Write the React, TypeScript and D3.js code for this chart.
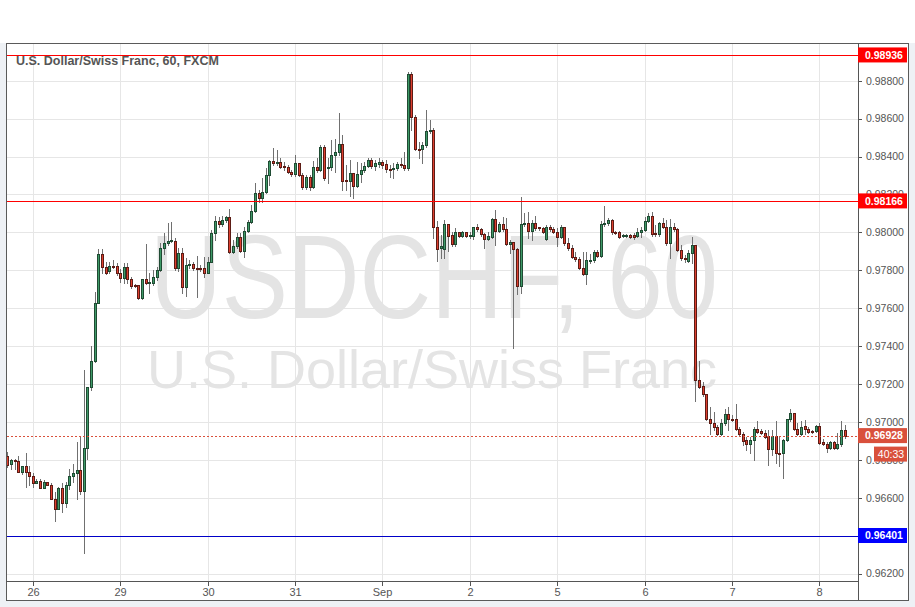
import React from "react";
import * as d3 from "d3";

// ── Data ──────────────────────────────────────────────────────────────────────

// hourly candles, [open, high, low, close], from Aug 25 17:00 to Sep 8 07:00
const OHLC: [number, number, number, number][] = [
  // Aug 25
  [0.96819, 0.96842, 0.96763, 0.96775], [0.96777, 0.96807, 0.96754, 0.96798],
  [0.96798, 0.96807, 0.9675, 0.96793], [0.96793, 0.96819, 0.96736, 0.96738],
  [0.96738, 0.9677, 0.96728, 0.96765], [0.96765, 0.96837, 0.96657, 0.96738],
  [0.96738, 0.9677, 0.96666, 0.96717],
  // Aug 26
  [0.96717, 0.96733, 0.96657, 0.96679], [0.96679, 0.96697, 0.96676, 0.96686],
  [0.96686, 0.96697, 0.96652, 0.96654], [0.96654, 0.96693, 0.96652, 0.96681],
  [0.96681, 0.96684, 0.96666, 0.9667], [0.9667, 0.96676, 0.96594, 0.96596],
  [0.96596, 0.96631, 0.96477, 0.96543], [0.96543, 0.96657, 0.96541, 0.96654],
  [0.96654, 0.96679, 0.96525, 0.96575], [0.96575, 0.96681, 0.96552, 0.96665],
  [0.96665, 0.96754, 0.96644, 0.96717], [0.96717, 0.96777, 0.96684, 0.96733],
  [0.96733, 0.96895, 0.96594, 0.96745], [0.96745, 0.96927, 0.96622, 0.96638],
  [0.96638, 0.97273, 0.96309, 0.9686], [0.9686, 0.97185, 0.96805, 0.97182],
  [0.97182, 0.974, 0.97171, 0.97319], [0.97319, 0.97683, 0.97315, 0.9763],
  [0.9763, 0.97912, 0.97628, 0.97884], [0.97884, 0.97912, 0.97784, 0.97818],
  [0.97818, 0.97845, 0.9778, 0.97784], [0.97797, 0.97845, 0.97784, 0.97822],
  [0.97822, 0.97854, 0.97811, 0.97818], [0.97822, 0.97839, 0.97775, 0.97784],
  // Aug 29
  [0.97784, 0.97805, 0.97739, 0.97757], [0.97757, 0.97836, 0.97732, 0.97815],
  [0.97815, 0.97836, 0.97734, 0.97752], [0.97752, 0.97762, 0.97704, 0.97716],
  [0.9772, 0.97727, 0.97711, 0.97716], [0.9772, 0.97722, 0.97646, 0.97652],
  [0.97652, 0.97753, 0.97648, 0.97752], [0.97752, 0.97938, 0.97727, 0.97731],
  [0.97731, 0.97784, 0.97678, 0.97738], [0.97734, 0.97801, 0.97722, 0.97762],
  [0.97762, 0.97818, 0.97748, 0.97801], [0.97801, 0.97945, 0.97796, 0.97915],
  [0.97915, 0.97995, 0.97885, 0.97945], [0.97945, 0.98047, 0.97933, 0.97956],
  [0.97956, 0.98054, 0.97949, 0.97959], [0.97956, 0.9797, 0.97801, 0.9781],
  [0.9781, 0.97915, 0.97796, 0.97889], [0.97889, 0.97915, 0.97681, 0.97713],
  [0.97713, 0.97863, 0.97664, 0.97827], [0.97826, 0.97854, 0.97811, 0.97833],
  [0.97833, 0.97845, 0.97801, 0.9781], [0.9781, 0.97875, 0.9766, 0.97805],
  [0.9781, 0.97827, 0.97796, 0.97805], [0.9781, 0.97871, 0.97762, 0.97787],
  // Aug 30
  [0.97787, 0.97871, 0.97786, 0.97845], [0.97845, 0.98012, 0.97843, 0.97995],
  [0.97995, 0.98086, 0.97962, 0.9806], [0.9806, 0.98079, 0.98028, 0.98044],
  [0.98044, 0.98086, 0.98033, 0.98065], [0.98065, 0.98086, 0.98054, 0.98079],
  [0.98079, 0.98121, 0.97891, 0.97898], [0.97898, 0.97959, 0.97891, 0.97928],
  [0.97928, 0.97998, 0.97917, 0.97974], [0.97974, 0.97995, 0.97896, 0.97903],
  [0.97903, 0.98029, 0.97871, 0.98007], [0.98007, 0.98065, 0.98002, 0.98053],
  [0.98053, 0.98144, 0.98049, 0.98114], [0.98114, 0.98259, 0.98107, 0.98206],
  [0.98206, 0.98223, 0.98161, 0.98179], [0.98179, 0.98285, 0.98161, 0.98214],
  [0.98214, 0.98338, 0.98207, 0.98302], [0.98302, 0.98382, 0.9825, 0.98378],
  [0.98378, 0.98443, 0.98355, 0.98364], [0.98364, 0.98434, 0.98355, 0.98373],
  [0.98373, 0.98391, 0.98339, 0.98346], [0.9835, 0.98373, 0.98329, 0.98343],
  [0.98343, 0.98355, 0.98313, 0.9832], [0.9832, 0.98329, 0.98297, 0.98306],
  // Aug 31
  [0.98306, 0.98408, 0.98297, 0.98364], [0.98364, 0.98367, 0.98297, 0.98302],
  [0.98302, 0.98311, 0.98229, 0.98237], [0.98237, 0.98302, 0.98229, 0.9829],
  [0.9829, 0.98302, 0.98223, 0.98241], [0.98241, 0.98378, 0.98234, 0.98343],
  [0.98343, 0.98391, 0.98318, 0.98331], [0.9833, 0.98461, 0.98323, 0.98449],
  [0.98449, 0.98461, 0.98276, 0.98285], [0.98338, 0.98394, 0.98259, 0.98343],
  [0.98343, 0.98487, 0.98329, 0.98408], [0.98408, 0.98492, 0.9832, 0.98422],
  [0.98422, 0.98628, 0.98408, 0.98466], [0.98466, 0.98513, 0.98223, 0.98272],
  [0.98276, 0.98355, 0.98223, 0.98272], [0.98272, 0.98382, 0.98193, 0.98311],
  [0.98311, 0.98313, 0.98179, 0.98246], [0.98246, 0.98373, 0.98239, 0.98306],
  [0.98306, 0.98364, 0.98267, 0.98329], [0.98329, 0.98373, 0.98318, 0.9835],
  [0.9835, 0.98391, 0.98345, 0.98382], [0.98382, 0.98391, 0.98339, 0.9835],
  [0.9835, 0.98382, 0.98329, 0.98364], [0.98362, 0.98391, 0.98345, 0.98369],
  // Sep 1
  [0.98369, 0.98382, 0.98339, 0.98355], [0.9836, 0.98382, 0.98318, 0.98332],
  [0.98332, 0.98355, 0.98293, 0.98329], [0.98332, 0.98364, 0.98288, 0.98338],
  [0.98338, 0.98373, 0.98329, 0.9836], [0.9836, 0.98391, 0.98345, 0.98355],
  [0.98355, 0.98422, 0.98329, 0.98338], [0.98338, 0.98848, 0.98329, 0.98834],
  [0.98834, 0.98848, 0.9854, 0.98607], [0.98607, 0.98619, 0.98434, 0.98438],
  [0.98438, 0.98475, 0.98391, 0.98436], [0.98438, 0.98475, 0.98364, 0.98461],
  [0.98461, 0.98645, 0.9845, 0.98535], [0.98535, 0.98593, 0.98524, 0.9854],
  [0.9854, 0.9855, 0.97968, 0.98029], [0.98029, 0.9806, 0.97849, 0.97912],
  [0.97915, 0.97986, 0.97866, 0.97928], [0.97912, 0.98065, 0.97863, 0.98042],
  [0.98042, 0.98042, 0.97901, 0.97982], [0.97986, 0.98003, 0.97928, 0.97937],
  [0.97937, 0.98024, 0.97928, 0.98], [0.98, 0.98003, 0.97975, 0.97982],
  [0.97982, 0.98007, 0.97975, 0.98], [0.98, 0.98003, 0.97975, 0.97982],
  // Sep 2
  [0.97982, 0.98003, 0.9797, 0.97986], [0.97982, 0.98029, 0.97965, 0.98028],
  [0.98028, 0.98042, 0.98007, 0.98016], [0.98017, 0.98024, 0.9798, 0.97989],
  [0.97989, 0.97995, 0.97915, 0.97963], [0.97963, 0.98003, 0.97959, 0.9798],
  [0.97977, 0.98077, 0.9797, 0.9807], [0.9807, 0.98118, 0.97933, 0.98008],
  [0.98008, 0.98056, 0.98002, 0.98042], [0.98042, 0.98082, 0.98007, 0.98016],
  [0.98016, 0.98074, 0.97933, 0.97937], [0.97937, 0.97959, 0.97889, 0.97947],
  [0.97947, 0.97949, 0.97388, 0.9791], [0.9791, 0.97915, 0.97673, 0.97716],
  [0.97716, 0.98188, 0.97678, 0.98042], [0.98042, 0.981, 0.98033, 0.98047],
  [0.98047, 0.98109, 0.97968, 0.98008], [0.98008, 0.98065, 0.97959, 0.98047],
  [0.98047, 0.98088, 0.98012, 0.98024], [0.98026, 0.98029, 0.98012, 0.98021],
  [0.98021, 0.98029, 0.97996, 0.98003], [0.97963, 0.98038, 0.97959, 0.98028],
  [0.98026, 0.98038, 0.98007, 0.98016], [0.98016, 0.98029, 0.97996, 0.98003],
  // Sep 5
  [0.98003, 0.98024, 0.97929, 0.97977], [0.97977, 0.98038, 0.9797, 0.98026],
  [0.98026, 0.98029, 0.97933, 0.97942], [0.97942, 0.97968, 0.97907, 0.97915],
  [0.97915, 0.97933, 0.97864, 0.97871], [0.97871, 0.97898, 0.97849, 0.97857],
  [0.97857, 0.97871, 0.97806, 0.9781], [0.9781, 0.97898, 0.97775, 0.97778],
  [0.97778, 0.97898, 0.97726, 0.97854], [0.97848, 0.97884, 0.97838, 0.97854],
  [0.97854, 0.97907, 0.97843, 0.97894], [0.97894, 0.97907, 0.9787, 0.97876],
  [0.97876, 0.9806, 0.9787, 0.98042], [0.98042, 0.98139, 0.98033, 0.98047],
  [0.98047, 0.98074, 0.98038, 0.98065], [0.98065, 0.9807, 0.97991, 0.98],
  [0.98003, 0.98007, 0.97991, 0.98], [0.98, 0.98007, 0.9797, 0.97977],
  [0.97979, 0.97989, 0.97975, 0.97986], [0.97979, 0.97989, 0.97975, 0.97986],
  [0.97986, 0.97989, 0.9797, 0.97975], [0.97986, 0.97995, 0.97965, 0.97974],
  [0.97982, 0.98021, 0.97975, 0.98], [0.98, 0.98029, 0.97977, 0.98012],
  // Sep 6
  [0.98012, 0.98082, 0.98007, 0.9806], [0.9806, 0.981, 0.98054, 0.98086],
  [0.98086, 0.98109, 0.9798, 0.97989], [0.97995, 0.98038, 0.9798, 0.97989],
  [0.97989, 0.98056, 0.9798, 0.98047], [0.98047, 0.98074, 0.98023, 0.98029],
  [0.98029, 0.98065, 0.97933, 0.97942], [0.97942, 0.9807, 0.97866, 0.98026],
  [0.98026, 0.98047, 0.98007, 0.98016], [0.98016, 0.98021, 0.97901, 0.97907],
  [0.97907, 0.97933, 0.97854, 0.97863], [0.97863, 0.9788, 0.97843, 0.97857],
  [0.9785, 0.97907, 0.97843, 0.97889], [0.97889, 0.97977, 0.97836, 0.97933],
  [0.97933, 0.97933, 0.97111, 0.9722], [0.9722, 0.97321, 0.97178, 0.97185],
  [0.97189, 0.97211, 0.97136, 0.97145], [0.97145, 0.9715, 0.97009, 0.97018],
  [0.97018, 0.97079, 0.96939, 0.96992], [0.96992, 0.97053, 0.96957, 0.96971],
  [0.96971, 0.96983, 0.9693, 0.96934], [0.96934, 0.97018, 0.9693, 0.96992],
  [0.96992, 0.97067, 0.96983, 0.97041], [0.97041, 0.97079, 0.96957, 0.97018],
  // Sep 7
  [0.97018, 0.97036, 0.97004, 0.97013], [0.97013, 0.97094, 0.96957, 0.96965],
  [0.96965, 0.96974, 0.9693, 0.96939], [0.96939, 0.96948, 0.96877, 0.969],
  [0.96904, 0.96921, 0.96851, 0.96886], [0.96886, 0.96921, 0.96837, 0.96904],
  [0.96904, 0.96974, 0.968, 0.96965], [0.96965, 0.97005, 0.96941, 0.96948],
  [0.96951, 0.96965, 0.96935, 0.96944], [0.96944, 0.9696, 0.96914, 0.96921],
  [0.96925, 0.96957, 0.96775, 0.96855], [0.96855, 0.96957, 0.96825, 0.96925],
  [0.96925, 0.97004, 0.96784, 0.96834], [0.96837, 0.96925, 0.96767, 0.96834],
  [0.96834, 0.96912, 0.96702, 0.96907], [0.96907, 0.97018, 0.96898, 0.97013],
  [0.97013, 0.97066, 0.97004, 0.97045], [0.97045, 0.97046, 0.96957, 0.96965],
  [0.96965, 0.96992, 0.9693, 0.96939], [0.96939, 0.97005, 0.9693, 0.96974],
  [0.96978, 0.97009, 0.96939, 0.96965], [0.96965, 0.96971, 0.96941, 0.96948],
  [0.96951, 0.96957, 0.96941, 0.96946], [0.96951, 0.96983, 0.96946, 0.96978],
  // Sep 8
  [0.96978, 0.96992, 0.96883, 0.9689], [0.96893, 0.96908, 0.96877, 0.96886],
  [0.96886, 0.96895, 0.96839, 0.96863], [0.96863, 0.969, 0.96856, 0.96895],
  [0.96895, 0.969, 0.96856, 0.96863], [0.96863, 0.96942, 0.96856, 0.96886],
  [0.96886, 0.97005, 0.96874, 0.96957], [0.96957, 0.96983, 0.96914, 0.96928],
];

// time axis: label and the candle index of each day's first bar
const DAY_LABELS = ["26", "29", "30", "31", "Sep", "2", "5", "6", "7", "8"];
const DAY_START = [7, 31, 55, 79, 103, 127, 151, 175, 199, 223];

const PRICE_TICKS = [
  0.962, 0.964, 0.966, 0.968, 0.97, 0.972, 0.974, 0.976, 0.978, 0.98, 0.982,
  0.984, 0.986, 0.988,
];

const RESISTANCE = [0.98936, 0.98166];
const SUPPORT = 0.96401;
const LAST_PRICE = 0.96928;
const COUNTDOWN = "40:33";

const TITLE = "U.S. Dollar/Swiss Franc, 60, FXCM";
const WATERMARK_SYMBOL = "USDCHF, 60";
const WATERMARK_NAME = "U.S. Dollar/Swiss Franc";

// ── Style ─────────────────────────────────────────────────────────────────────

const W = 915;
const H = 607;
const FONT = "'Liberation Sans', Arial, sans-serif";

const frame = { left: 6, top: 43, right: 908, bottom: 600 };
const plot = { left: 6, top: 43, right: 858, bottom: 581 };

const UP = { fill: "#3f9a68", stroke: "#1f4b33" };
const DOWN = { fill: "#dd3f2f", stroke: "#5c1c15" };
const WICK = "#707070";
const GRID = "#e6e6e6";
const AXIS = "#555";
const TEXT = "#555";
const LABEL_SIZE = 10.5;

const fmt = d3.format(".5f");

// ── Chart ─────────────────────────────────────────────────────────────────────

export default function App() {
  const x = d3
    .scaleLinear()
    .domain([-0.5, 233.5])
    .range([plot.left, plot.right]);

  const y = d3
    .scaleLinear()
    .domain([0.96161, 0.98999])
    .range([plot.bottom, plot.top]);

  const px = (i: number) => Math.floor(x(i)) + 0.5;
  const py = (v: number) => Math.round(y(v)) + 0.5;

  // horizontal level line, drawn as a 1px filled strip so it stays crisp
  const level = (v: number, color: string, key: string) => (
    <rect
      key={key}
      x={plot.left + 1}
      y={Math.round(y(v))}
      width={plot.right - plot.left - 1}
      height={1}
      fill={color}
    />
  );

  const priceTag = (v: number, fill: string, key: string) => {
    const cy = y(v);
    return (
      <g key={key}>
        <rect x={plot.right} y={cy - 7.5} width={frame.right - plot.right - 1} height={15} fill={fill} />
        <text
          x={plot.right + 7}
          y={cy + 3.8}
          fill="#fff"
          fontSize={LABEL_SIZE}
          fontWeight="bold"
          fontFamily={FONT}
        >
          {fmt(v)}
        </text>
      </g>
    );
  };

  return (
    <svg
      width={W}
      height={H}
      style={{ position: "absolute", left: 0, top: 0, display: "block" }}
    >
      <rect width={W} height={H} fill="#eef1f5" />
      <rect width={W} height={frame.top} fill="#fff" />
      <rect
        x={frame.left + 0.5}
        y={frame.top + 0.5}
        width={frame.right - frame.left}
        height={frame.bottom - frame.top}
        fill="#fff"
        stroke="#5a5a5a"
      />

      <defs>
        <clipPath id="plot-clip">
          <rect
            x={plot.left + 1}
            y={plot.top + 1}
            width={plot.right - plot.left - 1}
            height={plot.bottom - plot.top - 1}
          />
        </clipPath>
      </defs>

      {/* grid */}
      <g>
        {PRICE_TICKS.map((t) => (
          <line
            key={`h${t}`}
            x1={plot.left + 1}
            x2={plot.right}
            y1={py(t)}
            y2={py(t)}
            stroke={GRID}
          />
        ))}
        {DAY_START.map((d) => (
          <line
            key={`v${d}`}
            x1={px(d)}
            x2={px(d)}
            y1={plot.top + 1}
            y2={plot.bottom}
            stroke={GRID}
          />
        ))}
      </g>

      {/* watermark */}
      <g fill="#e4e4e4" fontFamily={FONT} textAnchor="middle">
        <text
          x={(plot.left + plot.right) / 2 + 2}
          y={318}
          fontSize={118}
          textLength={568}
          lengthAdjust="spacingAndGlyphs"
        >
          {WATERMARK_SYMBOL}
        </text>
        <text x={(plot.left + plot.right) / 2} y={388} fontSize={54}>
          {WATERMARK_NAME}
        </text>
      </g>

      <text
        x={16}
        y={65}
        fontSize={12.5}
        fontWeight="bold"
        fill={TEXT}
        fontFamily={FONT}
      >
        {TITLE}
      </text>

      {/* candles */}
      <g clipPath="url(#plot-clip)">
        {OHLC.map(([o, h, l, c], i) => {
          const cx = px(i);
          const up = c >= o;
          const col = up ? UP : DOWN;
          const top = py(Math.max(o, c));
          const bot = py(Math.min(o, c));
          return (
            <g key={i}>
              <line
                x1={cx}
                x2={cx}
                y1={Math.round(y(h))}
                y2={Math.round(y(l)) + 1}
                stroke={WICK}
              />
              <rect
                x={cx - 1}
                y={top}
                width={2}
                height={Math.max(bot - top, 1)}
                fill={col.fill}
                stroke={col.stroke}
              />
            </g>
          );
        })}
      </g>

      {/* levels */}
      {RESISTANCE.map((v) => level(v, "#ff0000", `r${v}`))}
      {level(SUPPORT, "#0000c8", "support")}
      <line
        x1={plot.left + 1}
        x2={plot.right}
        y1={py(LAST_PRICE)}
        y2={py(LAST_PRICE)}
        stroke="#d9503c"
        strokeDasharray="2,2"
      />

      {/* axes */}
      <line x1={plot.right + 0.5} x2={plot.right + 0.5} y1={frame.top} y2={frame.bottom} stroke={AXIS} />
      <line x1={frame.left} x2={plot.right} y1={plot.bottom + 0.5} y2={plot.bottom + 0.5} stroke={AXIS} />

      <g fontFamily={FONT} fontSize={LABEL_SIZE} fill={TEXT}>
        {PRICE_TICKS.map((t) => (
          <g key={`yt${t}`}>
            <line x1={plot.right} x2={plot.right + 4} y1={py(t)} y2={py(t)} stroke={AXIS} />
            <text x={plot.right + 8} y={y(t) + 3.8}>
              {fmt(t)}
            </text>
          </g>
        ))}
        {DAY_START.map((d, k) => (
          <g key={`xt${d}`}>
            <line x1={px(d)} x2={px(d)} y1={plot.bottom} y2={plot.bottom + 5} stroke={AXIS} />
            <text x={px(d)} y={596} fontSize={11} textAnchor="middle">
              {DAY_LABELS[k]}
            </text>
          </g>
        ))}
      </g>

      {/* price tags */}
      {RESISTANCE.map((v) => priceTag(v, "#ff0000", `tag${v}`))}
      {priceTag(SUPPORT, "#0000ff", "tag-support")}
      {priceTag(LAST_PRICE, "#d9503c", "tag-last")}
      <rect
        x={874}
        y={y(LAST_PRICE) + 11}
        width={frame.right - 874 - 1}
        height={15}
        fill="#d9503c"
      />
      <text
        x={(874 + frame.right) / 2}
        y={y(LAST_PRICE) + 22.3}
        fill="#fff"
        fontSize={LABEL_SIZE}
        fontFamily={FONT}
        textAnchor="middle"
      >
        {COUNTDOWN}
      </text>
    </svg>
  );
}
